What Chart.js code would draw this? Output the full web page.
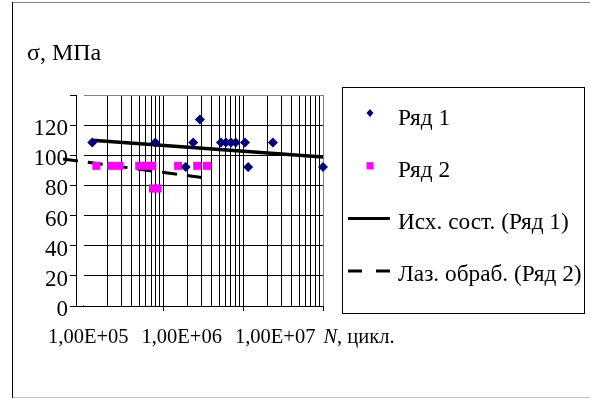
<!DOCTYPE html>
<html>
<head>
<meta charset="utf-8">
<script src="https://cdn.jsdelivr.net/npm/chart.js@4.4.0/dist/chart.umd.min.js"></script>
<style>
  html, body { margin: 0; padding: 0; background: #fff; }
  canvas { display: block; }
</style>
</head>
<body>
<canvas id="chart" width="590" height="399"></canvas>
<script>
// Ряд 1 - исходное состояние
const series1N = [1.27e5, 7.85e5, 1.89e6, 2.35e6, 2.85e6, 5.24e6, 6.05e6, 6.99e6, 8.0e6, 1.05e7, 1.15e7, 2.35e7, 1.0e8];
const series1S = [108.5, 108.5, 92.3, 108.5, 123.8, 108.5, 108.5, 108.5, 108.5, 108.5, 92.3, 108.5, 92.3];

// Ряд 2 - после лазерной обработки
const series2N = [1.43e5, 2.21e5, 2.8e5, 4.94e5, 6.12e5, 7.2e5, 7.35e5, 8.41e5, 1.52e6, 2.64e6, 3.49e6];
const series2S = [93, 93, 93, 93, 93, 93, 78, 78, 93, 93, 93];

// log trend lines (ends)
const trend1N = [1.26e5, 1.0e8];
const trend1S = [110.0, 98.9];
const trend2N = [5.46e4, 3.05e6];
const trend2S = [97.5, 85.2];

const legendLabels = ['Ряд 1', 'Ряд 2', 'Исх. сост. (Ряд 1)', 'Лаз. обраб. (Ряд 2)'];

const xDecades = [1e5, 1e6, 1e7];
const xMinor = [1, 2, 3, 4, 5, 6, 7, 8, 9];
const xTickLabels = ['1,00E+05', '1,00E+06', '1,00E+07'];
const yTitle = 'σ, МПа';

const FONT = '"Liberation Serif", "Times New Roman", serif';

const pts = (xs, ys) => xs.map((x, i) => ({ x: x, y: ys[i] }));

// frame, titles, x labels and the legend box
const extras = {
  id: 'extras',
  beforeDraw(chart) {
    const ctx = chart.ctx;
    ctx.save();
    ctx.fillStyle = '#fff';
    ctx.fillRect(0, 0, chart.width, chart.height);
    ctx.lineWidth = 1;
    ctx.strokeStyle = '#808080';
    ctx.beginPath();
    ctx.moveTo(12, 2.5); ctx.lineTo(590, 2.5);
    ctx.stroke();
    ctx.strokeStyle = '#c0c0c0';
    ctx.beginPath();
    ctx.moveTo(12, 397.5); ctx.lineTo(590, 397.5);
    ctx.stroke();
    ctx.strokeStyle = '#000';
    ctx.beginPath();
    ctx.moveTo(12.5, 2); ctx.lineTo(12.5, 398);
    ctx.stroke();
    ctx.restore();
  },
  beforeDatasetsDraw(chart) {
    // gap between the value axis and the plot area
    const ctx = chart.ctx, a = chart.chartArea;
    const x0 = Math.round(chart.scales.x.getPixelForValue(1e5));
    ctx.save();
    ctx.fillStyle = '#fff';
    ctx.fillRect(a.left + 1, a.top - 1, x0 - a.left - 1, a.bottom - a.top);
    ctx.restore();
  },
  afterDraw(chart) {
    const ctx = chart.ctx;
    const xs = chart.scales.x;
    ctx.save();
    ctx.fillStyle = '#000';
    ctx.textBaseline = 'alphabetic';
    ctx.textAlign = 'left';
    ctx.font = '24px ' + FONT;
    ctx.fillText(yTitle, 27, 60);

    // x labels, pushed apart like the original
    ctx.font = '20.5px ' + FONT;
    let minLeft = 48;
    let right = 0;
    xDecades.forEach((v, i) => {
      const w = ctx.measureText(xTickLabels[i]).width;
      const left = Math.max(xs.getPixelForValue(v) - w / 2, minLeft);
      ctx.fillText(xTickLabels[i], left, 343);
      right = left + w;
      minLeft = right + 13;
    });
    let tx = right + 8;
    ctx.font = 'italic 20.5px ' + FONT;
    ctx.fillText('N', tx, 343);
    tx += ctx.measureText('N').width;
    ctx.font = '20.5px ' + FONT;
    ctx.fillText(', цикл.', tx, 343);

    // legend
    ctx.strokeStyle = '#000';
    ctx.lineWidth = 1;
    ctx.strokeRect(342.5, 87.5, 242, 226);
    ctx.font = '23.3px ' + FONT;
    chart.data.datasets.forEach((ds, i) => {
      const sy = 113 + i * 52.7;
      if (ds.showLine === false) {
        ctx.fillStyle = ds.backgroundColor;
        ctx.beginPath();
        if (ds.pointStyle === 'rectRot') {
          ctx.moveTo(370, sy - 4); ctx.lineTo(373.5, sy); ctx.lineTo(370, sy + 4); ctx.lineTo(366.5, sy);
        } else {
          ctx.rect(366.5, sy - 3.5, 7, 7);
        }
        ctx.closePath();
        ctx.fill();
      } else {
        ctx.strokeStyle = ds.borderColor;
        ctx.lineWidth = 3;
        ctx.setLineDash(ds.legendDash || []);
        ctx.beginPath();
        ctx.moveTo(348, sy); ctx.lineTo(390, sy);
        ctx.stroke();
        ctx.setLineDash([]);
      }
      ctx.fillStyle = '#000';
      ctx.fillText(ds.label, 398, 124.5 + i * 52);
    });
    ctx.restore();
  }
};

new Chart(document.getElementById('chart'), {
  type: 'scatter',
  data: {
    datasets: [
      {
        label: legendLabels[0],
        data: pts(series1N, series1S),
        showLine: false,
        pointStyle: 'rectRot',
        pointRadius: 5,
        backgroundColor: '#000080',
        borderColor: '#000080',
        borderWidth: 0,
        clip: false
      },
      {
        label: legendLabels[1],
        data: pts(series2N, series2S),
        showLine: false,
        pointStyle: 'rect',
        pointRadius: 5.7,
        backgroundColor: '#ff00ff',
        borderColor: '#ff00ff',
        borderWidth: 0,
        clip: false
      },
      {
        label: legendLabels[2],
        data: pts(trend1N, trend1S),
        showLine: true,
        pointRadius: 0,
        borderColor: '#000',
        borderWidth: 3.5,
        clip: false
      },
      {
        label: legendLabels[3],
        data: pts(trend2N, trend2S),
        showLine: true,
        pointRadius: 0,
        borderColor: '#000',
        borderWidth: 3,
        borderDash: [15, 10],
        legendDash: [14, 14],
        clip: false
      }
    ]
  },
  options: {
    responsive: false,
    animation: false,
    layout: { padding: { top: 95, right: 267, bottom: 0, left: 0 } },
    plugins: {
      legend: { display: false },
      tooltip: { enabled: false }
    },
    scales: {
      x: {
        type: 'logarithmic',
        min: Math.pow(10, 4.9),
        max: 1e8,
        afterBuildTicks: (s) => {
          const t = [];
          xDecades.forEach(d => xMinor.forEach(m => t.push({ value: d * m })));
          t.push({ value: 1e8 });
          s.ticks = t;
        },
        afterFit: (s) => { s.height = 93; },
        ticks: { display: false },
        grid: {
          color: (c) => (c.tick && (c.tick.value === 1e5 || c.tick.value === 1e8)) ? '#808080' : '#000',
          lineWidth: 1,
          drawTicks: true,
          tickLength: 5,
          tickColor: (c) => (c.tick && [1e6, 1e7, 1e8].includes(c.tick.value)) ? '#000' : 'rgba(0,0,0,0)'
        },
        border: { color: '#000', width: 1 }
      },
      y: {
        min: 0,
        max: 140,
        afterFit: (s) => { s.width = 76; },
        ticks: {
          stepSize: 20,
          autoSkip: false,
          color: '#000',
          padding: 2,
          labelOffset: 4,
          font: { family: FONT, size: 23 },
          callback: (v) => v === 140 ? '' : String(v)
        },
        grid: {
          color: (c) => (c.tick && c.tick.value === 140) ? '#808080' : (c.tick && c.tick.value === 0 ? 'rgba(0,0,0,0)' : '#000'),
          lineWidth: 1,
          drawTicks: true,
          tickLength: 6,
          tickColor: '#000'
        },
        border: { color: '#000', width: 1 }
      }
    }
  },
  plugins: [extras]
});
</script>
</body>
</html>
